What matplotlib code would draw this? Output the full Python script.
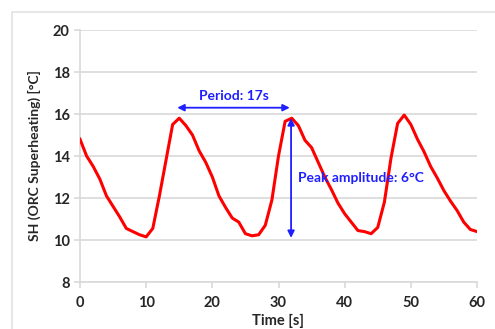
import matplotlib
matplotlib.use('Agg')
import matplotlib.pyplot as plt
from matplotlib.patches import Rectangle

plt.rcParams['font.family'] = ['Lato', 'DejaVu Sans']

time_s = list(range(0, 61))
superheat = [14.8, 14.0, 13.5, 12.9, 12.1, 11.6, 11.1, 10.55, 10.4, 10.25,
             10.15, 10.55, 12.1, 13.8, 15.5, 15.8, 15.45, 15.0, 14.25, 13.7,
             13.0, 12.1, 11.55, 11.05, 10.85, 10.3, 10.2, 10.25, 10.7, 11.9,
             14.0, 15.65, 15.8, 15.45, 14.75, 14.4, 13.7, 13.0, 12.4, 11.75,
             11.25, 10.85, 10.45, 10.4, 10.3, 10.6, 11.8, 13.9, 15.55, 15.95,
             15.5, 14.8, 14.2, 13.5, 12.95, 12.35, 11.85, 11.4, 10.85, 10.5,
             10.4]

x_ticks = [0, 10, 20, 30, 40, 50, 60]
y_ticks = [8, 10, 12, 14, 16, 18, 20]

period_start, period_end, period_level = 14.7, 31.7, 16.3
peak_time, peak_top, peak_bottom = 31.9, 15.8, 10.1

blue = '#1f1fff'
grey = '#d9d9d9'
text_col = '#262626'

fig = plt.figure(figsize=(4.95, 3.29), dpi=100)
fig.patches.append(Rectangle((12 / 495, -0.1), 1.2, 1 - 12 / 329 + 0.1,
                             transform=fig.transFigure, fill=False,
                             edgecolor='#e3e3e3', linewidth=1.2))
ax = fig.add_axes([80 / 495, 1 - 282 / 329, 397 / 495, 252 / 329])

ax.plot(time_s, superheat, color='#ff0000', linewidth=2.2, zorder=3)

ax.set_xlim(0, 60)
ax.set_ylim(8, 20)
ax.set_xticks(x_ticks)
ax.set_yticks(y_ticks)
ax.yaxis.grid(True, color=grey, linewidth=1.2)
ax.set_axisbelow(True)
for side in ['top', 'right']:
    ax.spines[side].set_visible(False)
for side in ['left', 'bottom']:
    ax.spines[side].set_color(grey)
    ax.spines[side].set_linewidth(1.2)
ax.tick_params(axis='both', colors=grey, length=4, width=1.2,
               labelcolor=text_col, labelsize=10.5)
ax.tick_params(axis='x', pad=6)
for lbl in ax.get_xticklabels() + ax.get_yticklabels():
    lbl.set_fontweight('bold')

ax.set_xlabel('Time [s]', fontsize=10.5, fontweight='bold', color=text_col,
              labelpad=3)
ax.set_ylabel('SH (ORC Superheating) [°C]', fontsize=10, fontweight='bold',
              color=text_col, labelpad=8)

ax.annotate('', xy=(period_start, period_level), xytext=(period_end, period_level),
            arrowprops=dict(arrowstyle='<|-|>', color=blue, lw=1.3,
                            mutation_scale=10, shrinkA=0, shrinkB=0))
ax.text((period_start + period_end) / 2, 16.85, 'Period: 17s', color=blue,
        fontsize=10, fontweight='bold', ha='center', va='center')

ax.annotate('', xy=(peak_time, peak_top), xytext=(peak_time, peak_bottom),
            arrowprops=dict(arrowstyle='<|-|>', color=blue, lw=1.3,
                            mutation_scale=10, shrinkA=0, shrinkB=0))
ax.text(32.9, 12.95, 'Peak amplitude: 6°C', color=blue, fontsize=10,
        fontweight='bold', ha='left', va='center')

fig.savefig('out.png', dpi=100)
